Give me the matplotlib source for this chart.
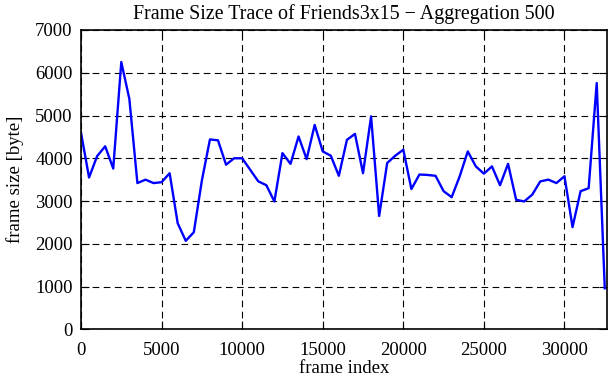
import matplotlib
matplotlib.use("Agg")
from matplotlib import pyplot as plt

# frame index (aggregation of 500 frames) and mean frame size in byte
frame_index = list(range(0, 33000, 500))
frame_size = [
    4600, 3550, 4050, 4280, 3760, 6250, 5390, 3420, 3500, 3420,
    3440, 3650, 2480, 2070, 2270, 3480, 4440, 4420, 3850, 4000,
    4000, 3730, 3460, 3370, 2990, 4120, 3870, 4510, 3980, 4780,
    4160, 4060, 3590, 4430, 4570, 3650, 4980, 2650, 3890, 4060,
    4200, 3280, 3620, 3610, 3590, 3230, 3090, 3580, 4160, 3810,
    3640, 3810, 3370, 3870, 3030, 2990, 3150, 3460, 3500, 3420,
    3580, 2390, 3230, 3300, 5760, 960,
]
x_ticks = [0, 5000, 10000, 15000, 20000, 25000, 30000]
y_ticks = [0, 1000, 2000, 3000, 4000, 5000, 6000, 7000]

plt.rcParams['font.family'] = ['Liberation Serif', 'DejaVu Serif']

fig = plt.figure(figsize=(6.11, 3.8), dpi=100)
ax = fig.add_axes([81 / 611, 50.7 / 380, 525.7 / 611, 299.3 / 380])

ax.plot(frame_index, frame_size, color=(0, 0, 1), linewidth=1.7)

ax.set_xlim(0, 32620)
ax.set_ylim(0, 7000)
ax.set_xticks(x_ticks)
ax.set_yticks(y_ticks)
ax.grid(True, color='black', linestyle=(0, (6, 4)), linewidth=0.8)
ax.tick_params(direction='in', top=True, right=True, length=6, width=0.8,
               labelsize=13.5)
ax.tick_params(axis='y', pad=6)
ax.tick_params(axis='x', pad=9)
for spine in ax.spines.values():
    spine.set_linewidth(1.2)

ax.set_xlabel('frame index', fontsize=13.5, labelpad=1)
ax.set_ylabel('frame size [byte]', fontsize=13.5, labelpad=8)
ax.set_title('Frame Size Trace of Friends3x15 \u2212 Aggregation 500',
             fontsize=14.4, pad=8)

plt.savefig('out.png', dpi=100)
